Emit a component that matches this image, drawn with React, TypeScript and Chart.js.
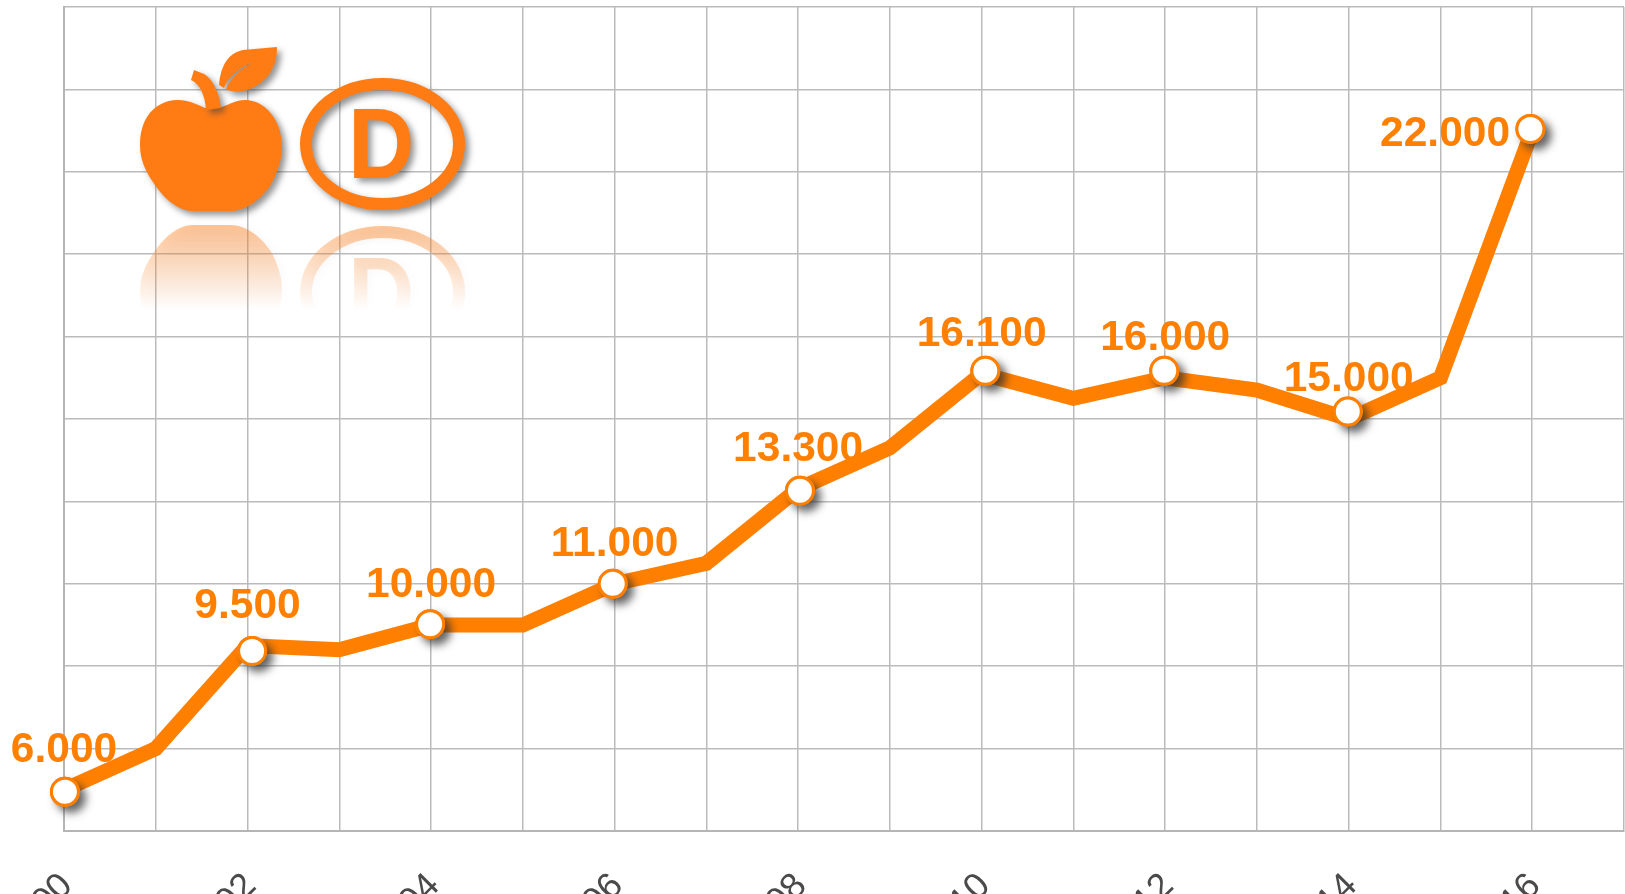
import React, { useEffect, useRef } from "react";
import { Chart, registerables } from "chart.js";

Chart.register(...registerables);

const years = [2000, 2001, 2002, 2003, 2004, 2005, 2006, 2007, 2008, 2009, 2010, 2011, 2012, 2013, 2014, 2015, 2016];
const lineValues = [6000, 7000, 9500, 9400, 10000, 10000, 11000, 11500, 13300, 14300, 16100, 15500, 16000, 15700, 15000, 16000, 22000];
const markerYears = [2000.01, 2002.05, 2003.99, 2005.98, 2008.02, 2010.04, 2011.99, 2013.99, 2015.98];
const markerValues = [5950, 9370, 10020, 11000, 13260, 16170, 16170, 15180, 22040];
const labelYears = [2000, 2002, 2004, 2006, 2008, 2010, 2012, 2014, 2015.05];
const labelValues = [6000, 9500, 10000, 11000, 13300, 16100, 16000, 15000, 22000];

const ORANGE = "#ff7f00";
const FONT = '"Liberation Sans", Arial, sans-serif';
const fmt = (v: number) => String(v).replace(/(\d)(\d{3})$/, "$1.$2");

const apple = "M205 108 C196 104 188 100 178 100 C165 100 154 106 147 117 C142 125 140 135 140 145 C140 160 146 172 153 182 C163 198 178 211 193 211 L230 211 C246 211 260 200 270 186 C277 174 282 160 282 147 C282 120 265 100 245 100 C236 100 230 104 222 107 Z";
const stem = "M194 70 L191 80 C200 84 205 95 206 110 L221 108 C219 92 212 78 204 74 Z";
const leaf = "M277 47 L243 50 C229 53 221 64 219 85 L224 88 C228 76 242 66 254 62 C242 68 232 76 226 89 C240 96 260 88 270 73 C275 65 277 57 277 47 Z";

const D_X = 348;
const D_Y = 178;

function paintLogo(ctx: CanvasRenderingContext2D, fill: string | CanvasGradient, dFill: string | CanvasGradient) {
  ctx.fillStyle = fill;
  ctx.strokeStyle = fill;
  ctx.fill(new Path2D(apple));
  ctx.fill(new Path2D(stem));
  ctx.fill(new Path2D(leaf));
  ctx.lineWidth = 12;
  ctx.beginPath();
  ctx.ellipse(382.5, 144, 76.5, 60, 0, 0, Math.PI * 2);
  ctx.stroke();
  ctx.save();
  ctx.translate(D_X, D_Y);
  ctx.scale(0.92, 1);
  ctx.fillStyle = dFill;
  ctx.font = `bold 100px ${FONT}`;
  ctx.textAlign = "left";
  ctx.textBaseline = "alphabetic";
  ctx.fillText("D", 0, 0);
  ctx.restore();
}

function fade(ctx: CanvasRenderingContext2D, y0: number, y1: number) {
  const g = ctx.createLinearGradient(0, y0, 0, y1);
  g.addColorStop(0, "rgba(255,124,21,0.45)");
  g.addColorStop(1, "rgba(255,124,21,0)");
  return g;
}

const logoPlugin = {
  id: "logo",
  beforeDatasetsDraw(chart: any) {
    const ctx: CanvasRenderingContext2D = chart.ctx;
    ctx.save();
    ctx.shadowColor = "rgba(60,60,60,0.55)";
    ctx.shadowBlur = 6;
    ctx.shadowOffsetX = 4;
    ctx.shadowOffsetY = 4;
    paintLogo(ctx, "#ff7c15", "#ff7c15");
    ctx.restore();

    ctx.save();
    ctx.beginPath();
    ctx.rect(130, 222, 350, 92);
    ctx.clip();
    ctx.translate(0, 436);
    ctx.scale(1, -1);
    ctx.shadowColor = "rgba(60,60,60,0.12)";
    ctx.shadowBlur = 6;
    ctx.shadowOffsetX = 4;
    ctx.shadowOffsetY = 2;
    paintLogo(ctx, fade(ctx, 211, 126), fade(ctx, 211 - D_Y, 126 - D_Y));
    ctx.restore();
  },
};

const shadowPlugin = {
  id: "markerShadow",
  beforeDatasetDraw(chart: any, args: any) {
    if (args.index !== 1) return;
    const ctx = chart.ctx;
    ctx.save();
    ctx.shadowColor = "rgba(50,50,50,0.75)";
    ctx.shadowBlur = 8;
    ctx.shadowOffsetX = 6;
    ctx.shadowOffsetY = 6;
  },
  afterDatasetDraw(chart: any, args: any) {
    if (args.index === 1) chart.ctx.restore();
  },
};

const valueLabelPlugin = {
  id: "valueLabels",
  afterDatasetsDraw(chart: any) {
    const { ctx, scales } = chart;
    ctx.save();
    ctx.fillStyle = ORANGE;
    ctx.font = `bold 42.5px ${FONT}`;
    ctx.textBaseline = "middle";
    ctx.textAlign = "center";
    labelValues.forEach((v, i) => {
      const last = i === labelValues.length - 1;
      const x = scales.x.getPixelForValue(labelYears[i]);
      const y = scales.y.getPixelForValue(v);
      ctx.fillText(fmt(v), x, last ? y + 4 : y - 39.5);
    });
    ctx.restore();
  },
};

export default function App() {
  const ref = useRef<HTMLCanvasElement>(null);
  useEffect(() => {
    document.body.style.margin = "0";
    document.body.style.overflow = "hidden";
    const markerData = markerYears.map((x, i) => ({ x, y: markerValues[i] }));
    const chart = new Chart(ref.current!, {
      type: "line",
      data: {
        datasets: [
          {
            label: "line",
            data: years.map((x, i) => ({ x, y: lineValues[i] })),
            borderColor: ORANGE,
            borderWidth: 15,
            pointRadius: 0,
            tension: 0,
            clip: false,
            order: 3,
            borderJoinStyle: "miter",
          },
          {
            label: "marker shadows",
            data: markerData,
            showLine: false,
            pointRadius: 15,
            pointBorderWidth: 0,
            pointBackgroundColor: ORANGE,
            clip: false,
            order: 2,
          },
          {
            label: "markers",
            data: markerData,
            showLine: false,
            pointRadius: 13.5,
            pointBorderWidth: 3,
            pointBackgroundColor: "#ffffff",
            pointBorderColor: ORANGE,
            clip: false,
            order: 1,
          },
        ],
      } as any,
      plugins: [logoPlugin, shadowPlugin, valueLabelPlugin],
      options: {
        animation: false,
        responsive: false,
        events: [],
        layout: { autoPadding: false, padding: { top: 7, right: 1, left: 0, bottom: 0 } },
        plugins: { legend: { display: false }, title: { display: false }, tooltip: { enabled: false } },
        scales: {
          x: {
            type: "linear",
            min: 2000,
            max: 2017,
            afterFit(s: any) {
              s.height = 63;
              s.paddingLeft = 0;
              s.paddingRight = 0;
            },
            afterBuildTicks(s: any) {
              s.ticks = [...years, 2017].map((value) => ({ value }));
            },
            grid: { color: "#bbbbbb", lineWidth: 1.5, drawTicks: false },
            border: { color: "#b5b5b5", width: 2 },
            ticks: {
              autoSkip: false,
              minRotation: 45,
              maxRotation: 45,
              padding: 34,
              labelOffset: 3,
              color: "#4a4a4a",
              font: { family: FONT, size: 36 },
              callback: (v: any) => (Number(v) % 2 === 0 && Number(v) <= 2016 ? String(v) : ""),
            },
          },
          y: {
            min: 5000,
            max: 25000,
            afterFit(s: any) {
              s.width = 64;
            },
            grid: { color: "#bbbbbb", lineWidth: 1.5, drawTicks: false },
            border: { color: "#b5b5b5", width: 2 },
            ticks: { stepSize: 2000, display: false },
          },
        },
      } as any,
    });
    return () => chart.destroy();
  }, []);
  return (
    <canvas
      ref={ref}
      width={1625}
      height={894}
      style={{ position: "absolute", left: 0, top: 0, width: 1625, height: 894, display: "block" }}
    />
  );
}
